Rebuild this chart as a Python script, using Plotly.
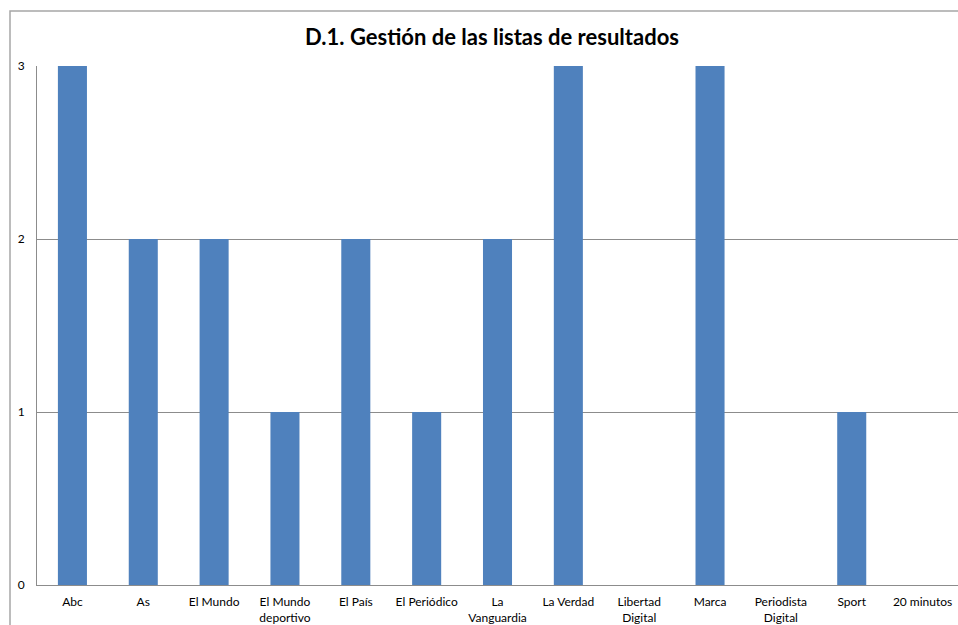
import plotly.graph_objects as go

categories = ["Abc", "As", "El Mundo", "El Mundo<br>deportivo", "El País", "El Periódico",
              "La<br>Vanguardia", "La Verdad", "Libertad<br>Digital", "Marca",
              "Periodista<br>Digital", "Sport", "20 minutos"]
values = [3, 2, 2, 1, 2, 1, 2, 3, 0, 3, 0, 1, 0]
y_ticks = [0, 1, 2, 3]

W, H = 958, 625
ml, mr, mt, mb = 37, 0, 66, 40
pw = W - ml - mr
ph = H - mt - mb

fig = go.Figure(go.Bar(x=categories, y=values, marker=dict(color="#4F81BD", line=dict(width=0)),
                       width=0.41))

fig.update_layout(
    width=W, height=H,
    margin=dict(l=ml, r=mr, t=mt, b=mb),
    paper_bgcolor="white", plot_bgcolor="white",
    font=dict(family="Lato, Open Sans, sans-serif", size=12, color="#000000"),
    title=dict(text="<b>D.1. Gestión de las listas de resultados</b>", x=(492) / W, xanchor="center",
               y=1 - 37 / H, yanchor="middle", font=dict(size=22, family="Lato, Open Sans, sans-serif")),
    showlegend=False,
    bargap=0.59,
)
fig.update_xaxes(showgrid=False, showline=True, linecolor="#8C8C8C", linewidth=1,
                 ticks="", tickfont=dict(size=12), ticklabelstandoff=6, tickangle=0)
fig.update_yaxes(range=[0, 3], tickvals=y_ticks, showgrid=True, gridcolor="#8C8C8C", gridwidth=1,
                 showline=True, linecolor="#8C8C8C", linewidth=1, ticks="", zeroline=False,
                 tickfont=dict(size=12), ticklabelstandoff=9)

# outer chart border
fig.add_shape(type="rect", xref="paper", yref="paper",
              x0=(10 - ml) / pw, x1=(W + 20 - ml) / pw,
              y0=-(H + 20 - (mt + ph)) / ph, y1=1 + (mt - 11) / ph,
              line=dict(color="#A6A6A6", width=1.5), fillcolor="rgba(0,0,0,0)", layer="below")

fig.write_html("out.html", config={"displayModeBar": False, "responsive": False},
               post_script="document.body.style.margin='0';document.documentElement.style.overflow='hidden';")
